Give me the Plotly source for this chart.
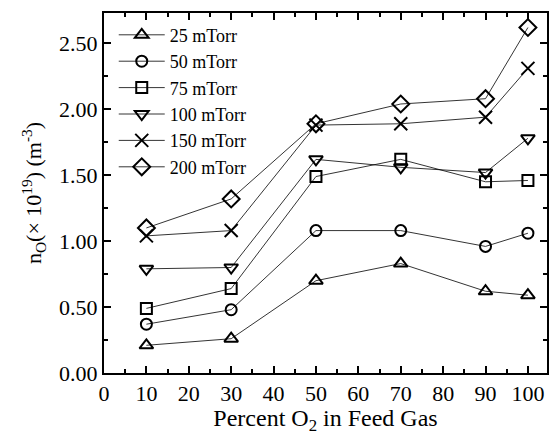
import plotly.graph_objects as go

x_pct = [10, 30, 50, 70, 90, 100]
labels = ["25 mTorr", "50 mTorr", "75 mTorr", "100 mTorr", "150 mTorr", "200 mTorr"]
n25 = [0.21, 0.26, 0.70, 0.83, 0.62, 0.59]
n50 = [0.37, 0.48, 1.08, 1.08, 0.96, 1.06]
n75 = [0.49, 0.64, 1.49, 1.62, 1.45, 1.46]
n100 = [0.79, 0.80, 1.62, 1.56, 1.52, 1.78]
n150 = [1.04, 1.08, 1.88, 1.89, 1.94, 2.31]
n200 = [1.10, 1.32, 1.89, 2.04, 2.08, 2.62]
series = [n25, n50, n75, n100, n150, n200]
symbols = ["triangle-up-open", "circle-open", "square-open", "triangle-down-open", "x-thin", "diamond-open"]
sizes = [12, 11, 11, 12, 13, 13]

fig = go.Figure()
for lab, ys, sym, sz in zip(labels, series, symbols, sizes):
    fig.add_trace(go.Scatter(
        x=x_pct, y=ys, name=lab, mode="lines+markers",
        line=dict(color="black", width=0.8),
        marker=dict(symbol=sym, size=sz, color="black",
                    line=dict(color="black", width=2)),
    ))

font = "Liberation Serif, Times New Roman, serif"
fig.update_layout(
    width=551, height=435,
    margin=dict(l=104, r=2, t=13, b=62),
    paper_bgcolor="white", plot_bgcolor="white",
    font=dict(family=font, size=20, color="black"),
    showlegend=True,
    legend=dict(x=0.022, y=0.99, xanchor="left", yanchor="top",
                bgcolor="rgba(0,0,0,0)", borderwidth=0,
                font=dict(family=font, size=18), tracegroupgap=0,
                itemwidth=46),
)
fig.update_xaxes(
    range=[0, 104.5], tickvals=[0, 10, 20, 30, 40, 50, 60, 70, 80, 90, 100],
    ticks="inside", ticklen=7, tickwidth=1.5, tickcolor="black",
    minor=dict(ticks="inside", dtick=5, ticklen=4, tickcolor="black"),
    showline=True, linecolor="black", linewidth=2, mirror="ticks",
    showgrid=False, zeroline=False,
    tickfont=dict(family=font, size=22),
    title=dict(text="Percent O<sub>2</sub> in Feed Gas", font=dict(family=font, size=24), standoff=9),
)
fig.update_yaxes(
    range=[0, 2.73], tickvals=[0, 0.5, 1.0, 1.5, 2.0, 2.5],
    ticktext=["0.00", "0.50", "1.00", "1.50", "2.00", "2.50"],
    ticks="inside", ticklen=7, tickwidth=1.5, tickcolor="black",
    minor=dict(ticks="inside", dtick=0.25, ticklen=4, tickcolor="black"),
    showline=True, linecolor="black", linewidth=2, mirror="ticks",
    showgrid=False, zeroline=False,
    tickfont=dict(family=font, size=22),
    title=dict(text="n<sub>O</sub>(× 10<sup>19</sup>) (m<sup>-3</sup>)", font=dict(family=font, size=22), standoff=11),
)
fig.write_html("out.html")
